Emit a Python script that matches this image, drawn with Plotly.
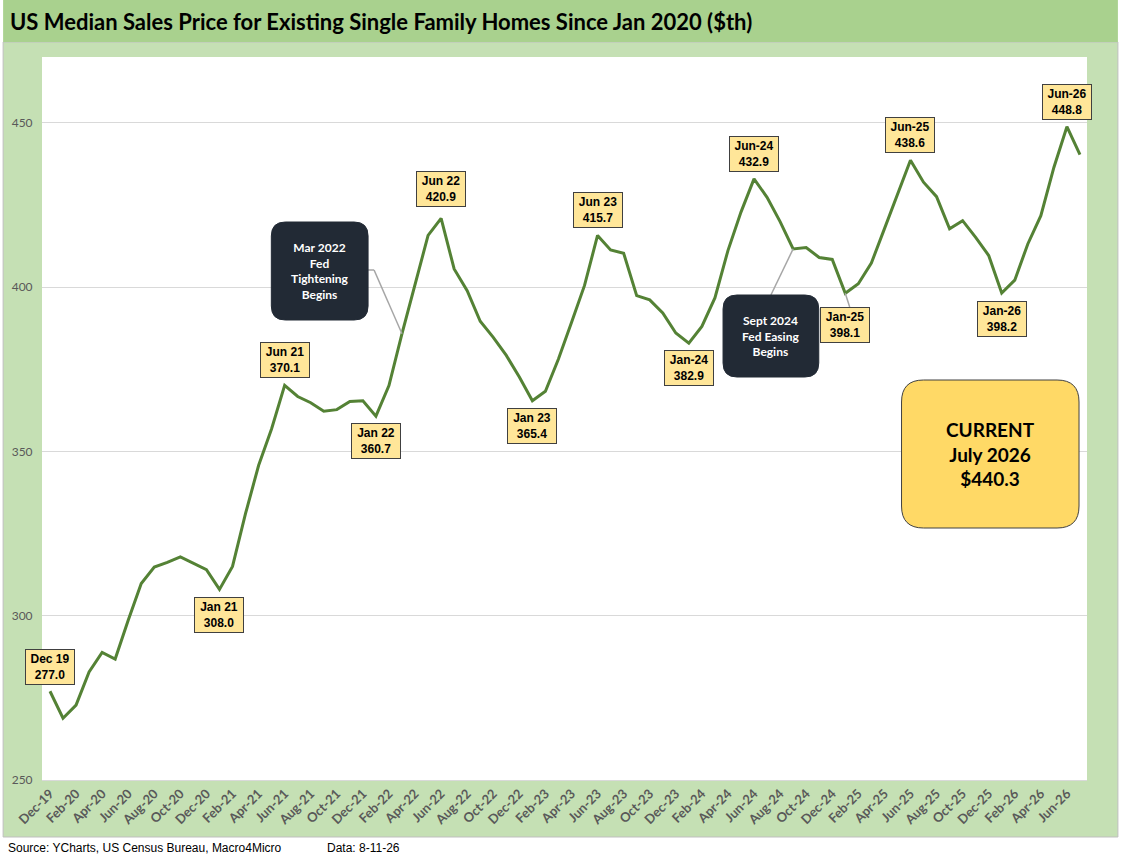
import plotly.graph_objects as go
import pandas as pd

# ---------------- data ----------------
months = pd.date_range("2019-12-01", periods=80, freq="MS").strftime("%b-%y").tolist()

prices = [
    277.0, 268.8, 272.8, 282.9, 288.8, 286.8, 298.6, 309.8, 314.8, 316.2,
    317.9, 315.9, 314.0, 308.0, 315.0, 331.1, 345.7, 356.9, 370.1, 366.7,
    364.8, 362.2, 362.7, 365.2, 365.4, 360.7, 370.0, 385.8, 401.0, 415.7,
    420.9, 405.5, 398.9, 389.6, 384.7, 379.2, 372.6, 365.4, 368.3, 378.1,
    389.2, 400.5, 415.7, 411.3, 410.3, 397.4, 396.1, 392.1, 386.0, 382.9,
    388.0, 396.7, 411.1, 422.8, 432.9, 427.3, 419.9, 411.6, 412.0, 409.0,
    408.4, 398.1, 401.0, 407.3, 417.7, 428.4, 438.6, 431.9, 427.5, 417.7,
    420.2, 415.1, 409.6, 398.2, 402.1, 413.1, 421.7, 436.4, 448.8, 440.3,
]

label_idx = [0, 13, 18, 25, 30, 37, 42, 49, 54, 61, 66, 73, 78]
label_names = ["Dec 19", "Jan 21", "Jun 21", "Jan 22", "Jun 22", "Jan 23", "Jun 23",
               "Jan-24", "Jun-24", "Jan-25", "Jun-25", "Jan-26", "Jun-26"]

tick_idx = list(range(0, 80, 2))
tick_text = [months[i] for i in tick_idx]

title_text = "US Median Sales Price for Existing Single Family Homes Since Jan 2020 ($th)"
source_text = "Source: YCharts, US Census Bureau, Macro4Micro"
data_text = "Data: 8-11-26"
fed_tight_text = "Mar 2022<br>Fed<br>Tightening<br>Begins"
fed_ease_text = "Sept 2024<br>Fed Easing<br>Begins"
fed_tight_idx = 27
fed_ease_idx = 57
current_label = "July 2026"

# ---------------- layout geometry / styles ----------------
label_shift = [24, -26, 25, -25, 29, -25, 25, -25, 25, -32, 25, -26, 25]

W, H = 1121, 863
L, R, T, B = 39, 34, 57, 83
PW = W - L - R
PH = H - T - B
XR = [-0.612, 79.54]
YR = [250, 470]
BOTTOM = H - B

def px(x):
    return (x - L) / PW

def py(y):
    return (BOTTOM - y) / PH

def dx(x):
    return XR[0] + (x - L) / PW * (XR[1] - XR[0])

def dy(y):
    return YR[0] + (BOTTOM - y) / PH * (YR[1] - YR[0])

def rrect(x0, y0, x1, y1, r):
    rx, ry = r / PW, r / PH
    X0, X1, Y0, Y1 = px(x0), px(x1), py(y0), py(y1)
    return (f"M{X0+rx},{Y0} L{X1-rx},{Y0} Q{X1},{Y0} {X1},{Y0-ry} "
            f"L{X1},{Y1+ry} Q{X1},{Y1} {X1-rx},{Y1} L{X0+rx},{Y1} "
            f"Q{X0},{Y1} {X0},{Y1+ry} L{X0},{Y0-ry} Q{X0},{Y0} {X0+rx},{Y0} Z")

FRAME_GREEN = "#c5e0b4"
TITLE_GREEN = "#a9d18e"
LINE_GREEN = "#548235"
NAVY = "#222a35"
CALIBRI = "Lato, Carlito, Calibri, sans-serif"
ARIAL = "Liberation Sans, Arial, sans-serif"

fig = go.Figure()
fig.add_trace(go.Scatter(
    x=list(range(len(prices))), y=prices, mode="lines",
    line=dict(color=LINE_GREEN, width=3), hoverinfo="skip", showlegend=False,
))

shapes = [
    dict(type="rect", xref="paper", yref="paper", layer="below",
         x0=px(0), x1=px(1118), y0=py(42), y1=py(837),
         fillcolor=FRAME_GREEN, line=dict(color="#bfbfbf", width=1)),
    dict(type="rect", xref="paper", yref="paper", layer="below",
         x0=px(0), x1=px(1118), y0=py(0), y1=py(42),
         fillcolor=TITLE_GREEN, line=dict(width=0)),
    dict(type="rect", xref="paper", yref="paper", layer="below",
         x0=0, x1=1, y0=0, y1=1, fillcolor="white", line=dict(width=0)),
    # leader lines
    dict(type="line", xref="x", yref="y", x0=dx(366), y0=dy(270), x1=dx(372), y1=dy(270),
         line=dict(color="#a6a6a6", width=1.5)),
    dict(type="line", xref="x", yref="y", x0=dx(372), y0=dy(270),
         x1=fed_tight_idx, y1=prices[fed_tight_idx], line=dict(color="#a6a6a6", width=1.5)),
    dict(type="line", xref="x", yref="y", x0=dx(770), y0=dy(295),
         x1=fed_ease_idx, y1=prices[fed_ease_idx], line=dict(color="#a6a6a6", width=1.5)),
    dict(type="line", xref="x", yref="y", x0=dx(849), y0=dy(307),
         x1=label_idx[9], y1=prices[label_idx[9]], line=dict(color="#a6a6a6", width=1.5)),
    # callout boxes
    dict(type="path", xref="paper", yref="paper", path=rrect(269, 222, 366, 320, 14),
         fillcolor=NAVY, line=dict(color=NAVY, width=1)),
    dict(type="path", xref="paper", yref="paper", path=rrect(722, 295, 818, 377, 14),
         fillcolor=NAVY, line=dict(color=NAVY, width=1)),
    dict(type="path", xref="paper", yref="paper", path=rrect(901, 380, 1079, 528, 22),
         fillcolor="#ffd966", line=dict(color="#404040", width=1)),
]

annotations = [
    dict(xref="paper", yref="paper", x=px(5), y=py(22), xanchor="left", yanchor="middle",
         text=f"<b>{title_text}</b>", showarrow=False,
         font=dict(family=CALIBRI, size=22, color="black")),
    dict(xref="paper", yref="paper", x=px(3), y=py(848), xanchor="left", yanchor="middle",
         text=source_text, showarrow=False, font=dict(family=ARIAL, size=12, color="black")),
    dict(xref="paper", yref="paper", x=px(323), y=py(848), xanchor="left", yanchor="middle",
         text=data_text, showarrow=False, font=dict(family=ARIAL, size=12, color="black")),
    dict(xref="paper", yref="paper", x=px(317.5), y=py(271), xanchor="center", yanchor="middle",
         text=f"<b>{fed_tight_text}</b>", showarrow=False,
         font=dict(family=CALIBRI, size=12, color="white")),
    dict(xref="paper", yref="paper", x=px(770), y=py(336), xanchor="center", yanchor="middle",
         text=f"<b>{fed_ease_text}</b>", showarrow=False,
         font=dict(family=CALIBRI, size=12, color="white")),
    dict(xref="paper", yref="paper", x=px(990), y=py(454), xanchor="center", yanchor="middle",
         text=f"<b>CURRENT<br>{current_label}<br>${prices[-1]:.1f}</b>", showarrow=False,
         font=dict(family=CALIBRI, size=19, color="black")),
]

for i, name, s in zip(label_idx, label_names, label_shift):
    annotations.append(dict(
        x=i, y=prices[i], xref="x", yref="y", yshift=s,
        text=f"<b>{name}<br>{prices[i]:.1f}</b>", showarrow=False,
        xanchor="center", yanchor="middle",
        bgcolor="#ffe699", bordercolor="#404040", borderwidth=1, borderpad=2,
        width=44, height=30,
        font=dict(family=ARIAL, size=12, color="black"),
    ))

fig.update_layout(
    width=W, height=H,
    margin=dict(l=L, r=R, t=T, b=B, pad=0),
    paper_bgcolor="white", plot_bgcolor="white",
    shapes=shapes, annotations=annotations,
    showlegend=False,
    xaxis=dict(range=XR, tickmode="array", tickvals=tick_idx, ticktext=tick_text,
               tickangle=-45, showgrid=False, zeroline=False,
               showline=True, linecolor="#d9d9d9", linewidth=1,
               ticks="", tickfont=dict(family=CALIBRI, size=13, color="#595959", weight="bold")),
    yaxis=dict(range=YR, tickmode="array", tickvals=[250, 300, 350, 400, 450],
               showgrid=True, gridcolor="#d9d9d9", gridwidth=1, zeroline=False,
               ticks="outside", ticklen=6, tickcolor="rgba(0,0,0,0)",
               tickfont=dict(family=CALIBRI, size=12, color="#595959")),
)

fig.write_html("out.html", config={"displayModeBar": False},
               post_script="document.body.style.margin='0';")
